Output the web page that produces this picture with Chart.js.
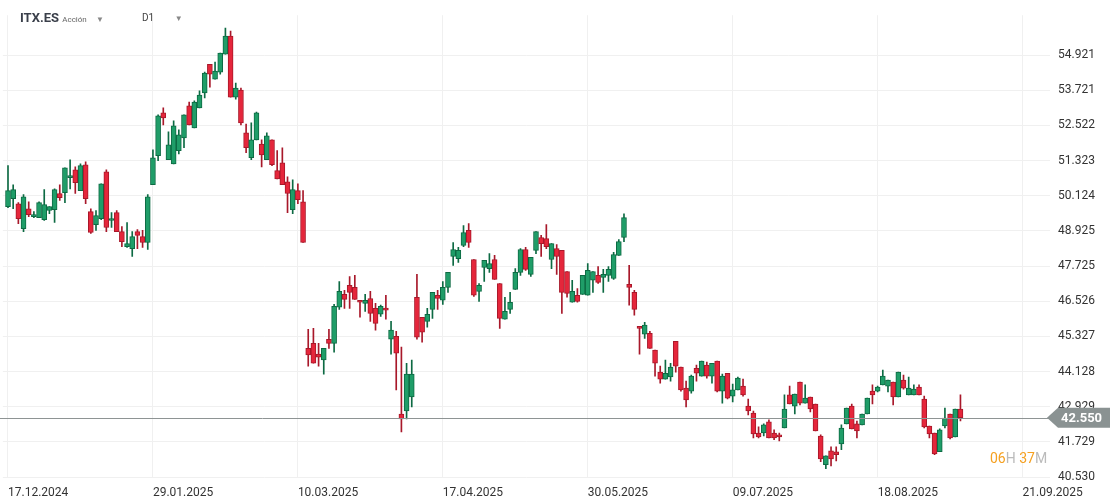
<!DOCTYPE html>
<html><head><meta charset="utf-8">
<script src="https://cdn.jsdelivr.net/npm/chart.js@4"></script>
<style>
body{margin:0;background:#fff;font-family:Roboto,sans-serif;}
#wrap{position:relative;width:1119px;height:504px;}
.hd{position:absolute;color:#333;}
</style></head><body>
<div id="wrap">
<canvas id="c" width="1119" height="504"></canvas>
<div class="hd" style="left:20px;top:10px;font-size:13px;font-weight:bold;color:#3a3f4a">ITX.ES <span style="font-size:8px;font-weight:normal;color:#666">Acción</span> <span style="font-size:8px;color:#888;margin-left:6px">▼</span></div>
<div class="hd" style="left:142px;top:12px;font-size:10px;color:#444">D1 <span style="font-size:8px;color:#888;margin-left:18px">▼</span></div>
<div class="hd" style="left:990px;top:450px;font-size:14px;"><span style="color:#f5a020">06</span><span style="color:#bbb">H </span><span style="color:#f5a020">37</span><span style="color:#bbb">M</span></div>
</div>
<script>
const dateLabels=['17.12.2024','29.01.2025','10.03.2025','17.04.2025','30.05.2025','09.07.2025','18.08.2025','21.09.2025'];
const priceTicks=[40.530,41.729,42.929,44.128,45.327,46.526,47.725,48.925,50.124,51.323,52.522,53.721,54.921];
const opens=[49.75,50.02,49.85,49.00,49.68,49.41,49.38,49.31,49.62,49.65,
50.20,50.23,50.74,51.01,50.30,51.18,49.58,49.14,49.34,50.94,
49.28,49.55,48.90,48.39,48.32,48.90,48.73,48.53,50.50,51.49,
52.95,51.35,51.21,51.66,52.10,53.19,52.44,53.12,53.63,54.61,
54.10,54.34,54.95,55.57,53.49,53.73,52.27,51.42,52.03,51.89,
51.35,52.03,50.98,51.25,50.60,49.65,50.30,49.92,44.92,45.09,
44.72,44.52,45.23,45.09,46.32,46.76,47.07,47.00,46.56,46.45,
46.62,46.28,46.08,46.28,45.23,45.33,42.68,42.78,43.26,46.66,
45.98,45.84,46.25,46.73,46.56,47.00,48.05,47.98,48.43,48.94,
47.95,46.86,47.68,47.64,47.95,47.13,45.91,46.25,46.93,47.51,
48.29,47.44,48.26,48.70,48.66,47.95,48.32,48.26,47.54,46.49,
46.73,46.76,46.73,47.24,47.41,47.34,47.41,47.30,48.09,48.70,
47.10,46.83,45.67,45.40,45.43,44.86,44.11,43.87,43.94,45.16,
44.28,43.56,43.46,44.24,43.97,44.35,43.97,44.48,43.46,44.07,
43.29,43.50,43.63,42.95,42.71,42.03,42.03,42.41,42.03,41.97,
42.20,43.33,42.95,43.77,43.05,43.26,43.02,41.93,40.95,41.42,
41.39,41.66,42.34,42.95,42.34,42.31,42.68,43.46,43.46,43.67,
43.63,43.77,43.26,43.84,43.33,43.33,43.60,43.19,42.27,42.03,
41.39,42.27,42.68,41.90,42.85];
const highs=[51.15,50.50,49.89,50.16,49.92,49.58,49.92,50.33,49.75,50.36,
50.50,51.08,51.35,51.11,51.21,51.28,49.68,49.62,50.53,51.01,
49.55,49.62,49.07,49.21,48.90,48.97,48.94,50.16,51.69,52.88,
53.12,52.30,52.68,52.37,52.88,53.32,53.36,53.70,54.34,54.61,
54.68,54.99,55.84,55.74,53.97,53.80,52.57,52.61,52.98,52.03,
52.27,52.03,51.66,51.76,50.77,50.67,50.53,50.30,45.57,45.60,
45.09,44.92,45.57,46.42,47.20,46.90,47.37,47.41,46.56,46.76,
46.86,46.45,46.39,46.73,45.84,45.50,44.96,44.41,44.52,47.44,
45.98,46.28,46.83,46.90,47.20,47.51,48.53,48.36,49.11,49.17,
47.95,47.13,47.92,48.15,48.09,47.13,46.66,46.83,47.64,48.32,
48.36,48.02,48.90,48.77,49.14,48.49,48.46,48.26,47.54,47.24,
46.96,47.41,47.81,47.54,47.71,47.61,47.71,48.19,48.63,49.51,
47.75,46.90,45.67,45.81,45.50,44.86,44.31,44.52,44.41,45.16,
44.28,43.80,44.01,44.35,44.48,44.45,44.41,44.48,44.04,44.07,
43.70,43.94,43.87,43.19,42.78,42.24,42.34,42.48,42.14,42.03,
43.33,43.63,43.36,43.77,43.67,43.26,43.02,41.97,41.25,41.56,
41.56,42.31,42.88,43.02,42.44,42.68,43.22,43.67,43.63,44.18,
43.84,43.77,44.11,44.01,43.94,43.67,43.67,43.29,42.27,42.03,
42.17,42.88,42.68,42.85,43.33];
const lows=[49.72,49.68,49.17,48.90,49.41,49.38,49.38,49.28,49.51,49.21,
49.96,49.89,50.36,50.20,50.30,49.85,48.84,48.94,49.31,48.90,
49.04,48.90,48.39,48.36,48.05,48.32,48.36,48.29,50.50,51.32,
52.54,51.35,51.21,51.55,51.76,52.54,52.44,53.12,53.46,53.83,
54.10,54.27,54.95,53.49,53.42,52.54,51.59,51.35,52.03,51.11,
51.35,51.15,50.70,50.50,49.55,49.51,49.85,48.53,44.31,44.41,
44.31,44.04,44.92,44.79,46.25,46.28,46.28,46.59,45.98,46.18,
45.84,45.54,46.01,45.91,44.72,43.50,42.07,42.51,42.92,45.23,
45.13,45.64,45.94,46.25,46.42,46.83,47.75,47.85,48.39,48.36,
46.69,46.52,47.20,47.51,47.27,45.60,45.91,46.11,46.93,47.41,
47.58,47.37,48.15,48.05,48.32,47.64,47.44,46.11,46.66,46.49,
46.49,46.76,46.73,46.83,47.13,46.83,47.20,47.27,48.09,48.56,
46.39,46.05,44.72,45.26,44.92,43.97,43.73,43.87,43.80,44.11,
43.46,42.92,43.39,43.80,43.97,43.90,43.73,43.43,43.05,43.19,
43.09,43.50,43.29,42.65,41.86,41.86,41.93,41.86,41.80,41.76,
42.20,43.02,42.68,42.99,43.05,42.75,42.10,41.05,40.81,40.91,
41.08,41.46,42.34,42.17,41.86,42.31,42.68,43.02,43.43,43.67,
43.43,42.99,43.26,43.53,43.33,43.33,43.33,42.20,41.86,41.29,
41.39,42.20,41.83,41.90,42.44];
const closes=[50.30,50.33,49.34,50.09,49.48,49.48,49.89,49.82,49.75,50.33,
50.06,51.08,50.81,50.57,51.15,50.02,48.87,49.45,50.53,49.04,
49.34,48.90,48.56,48.49,48.73,48.77,48.53,50.09,51.42,52.85,
52.78,51.86,52.51,52.20,52.88,52.54,53.32,53.56,54.31,54.27,
54.38,54.99,55.57,53.49,53.80,52.61,51.76,52.03,52.95,51.52,
52.17,51.18,50.70,50.50,50.20,50.33,49.99,48.53,44.69,44.41,
44.62,44.92,45.09,46.35,46.86,46.59,46.83,46.59,46.49,46.56,
46.11,45.77,46.35,46.22,45.54,44.75,42.51,44.04,44.04,45.30,
45.47,46.08,46.83,46.62,47.00,47.51,48.29,48.26,48.87,48.53,
46.73,47.07,47.92,47.81,47.27,45.94,46.18,46.49,47.51,48.29,
47.61,48.02,48.90,48.49,48.39,48.49,48.05,46.83,46.79,46.86,
46.52,47.41,47.58,47.54,47.17,47.44,47.61,48.12,48.56,49.38,
47.00,46.25,45.60,45.71,44.92,44.41,43.87,44.07,44.28,44.31,
43.50,43.16,43.97,44.07,44.48,43.97,44.41,43.46,43.97,43.22,
43.50,43.90,43.33,42.78,42.00,41.90,42.31,41.86,41.86,41.90,
42.85,43.02,43.36,43.05,43.22,42.85,42.10,41.15,41.25,41.15,
41.29,42.20,42.88,42.17,42.10,42.68,43.22,43.33,43.60,43.97,
43.84,43.26,44.11,43.56,43.56,43.53,43.33,42.24,42.00,41.32,
42.14,42.54,41.86,42.85,42.55];

const up=closes.map((c,i)=>c>=opens[i]);
const fillUp='#1f9d68', lineUp='#0d6a43', fillDn='#e5263b', lineDn='#a8182a';
const wicks=closes.map((c,i)=>({x:i+1,y:[lows[i],highs[i]]}));
const bodies=closes.map((c,i)=>({x:i+1,y:[opens[i],c]}));
const lastClose=closes[closes.length-1];

const lastPricePlugin={id:'lp',afterDatasetsDraw(ch){
  const ctx=ch.ctx, y=ch.scales.y.getPixelForValue(lastClose), a=ch.chartArea;
  ctx.save();
  ctx.strokeStyle='#8e9494';ctx.lineWidth=1;
  ctx.beginPath();ctx.moveTo(0,Math.round(y)+0.5);ctx.lineTo(a.right,Math.round(y)+0.5);ctx.stroke();
  ctx.fillStyle='#8a9292';
  ctx.beginPath();ctx.moveTo(a.right-3,y);ctx.lineTo(a.right+8,y-10);ctx.lineTo(1110,y-10);ctx.lineTo(1110,y+10);ctx.lineTo(a.right+8,y+10);ctx.closePath();ctx.fill();
  ctx.fillStyle='#fff';ctx.font='bold 13px Roboto';ctx.textBaseline='middle';
  ctx.fillText(lastClose.toFixed(3),a.right+11,y+1);
  ctx.restore();
}};

new Chart(document.getElementById('c'),{
  type:'bar',
  data:{datasets:[
    {data:wicks,backgroundColor:up.map(u=>u?lineUp:lineDn),barThickness:1,grouped:false,order:2},
    {data:bodies,backgroundColor:up.map(u=>u?fillUp:fillDn),borderColor:up.map(u=>u?lineUp:lineDn),borderWidth:1,borderSkipped:false,barThickness:5,minBarLength:2,grouped:false,order:1}
  ]},
  options:{
    responsive:false,animation:false,
    layout:{padding:{top:0,left:0,right:0,bottom:0}},
    plugins:{legend:{display:false},tooltip:{enabled:false}},
    scales:{
      x:{type:'linear',min:0,max:202.3,offset:false,
        grid:{color:'#f0f0f0',drawTicks:false,offset:false},border:{display:false},
        afterBuildTicks(s){s.ticks=dateLabels.map((d,k)=>({value:1+28*k}));},
        afterFit(s){s.height=26;},
        ticks:{align:'start',padding:8,color:'#333',font:{family:'Roboto',size:12},maxRotation:0,autoSkip:false,
          callback:(v,k)=>dateLabels[k]}},
      y:{position:'right',min:40.496,max:56.282,
        grid:{color:'#f0f0f0',drawTicks:false},border:{display:false},
        afterBuildTicks(s){s.ticks=priceTicks.map(v=>({value:v}));},
        afterFit(s){s.width=69;},
        ticks:{padding:8,color:'#333',font:{family:'Roboto',size:12},callback:v=>v.toFixed(3)}}
    }
  },
  plugins:[lastPricePlugin]
});
</script></body></html>
